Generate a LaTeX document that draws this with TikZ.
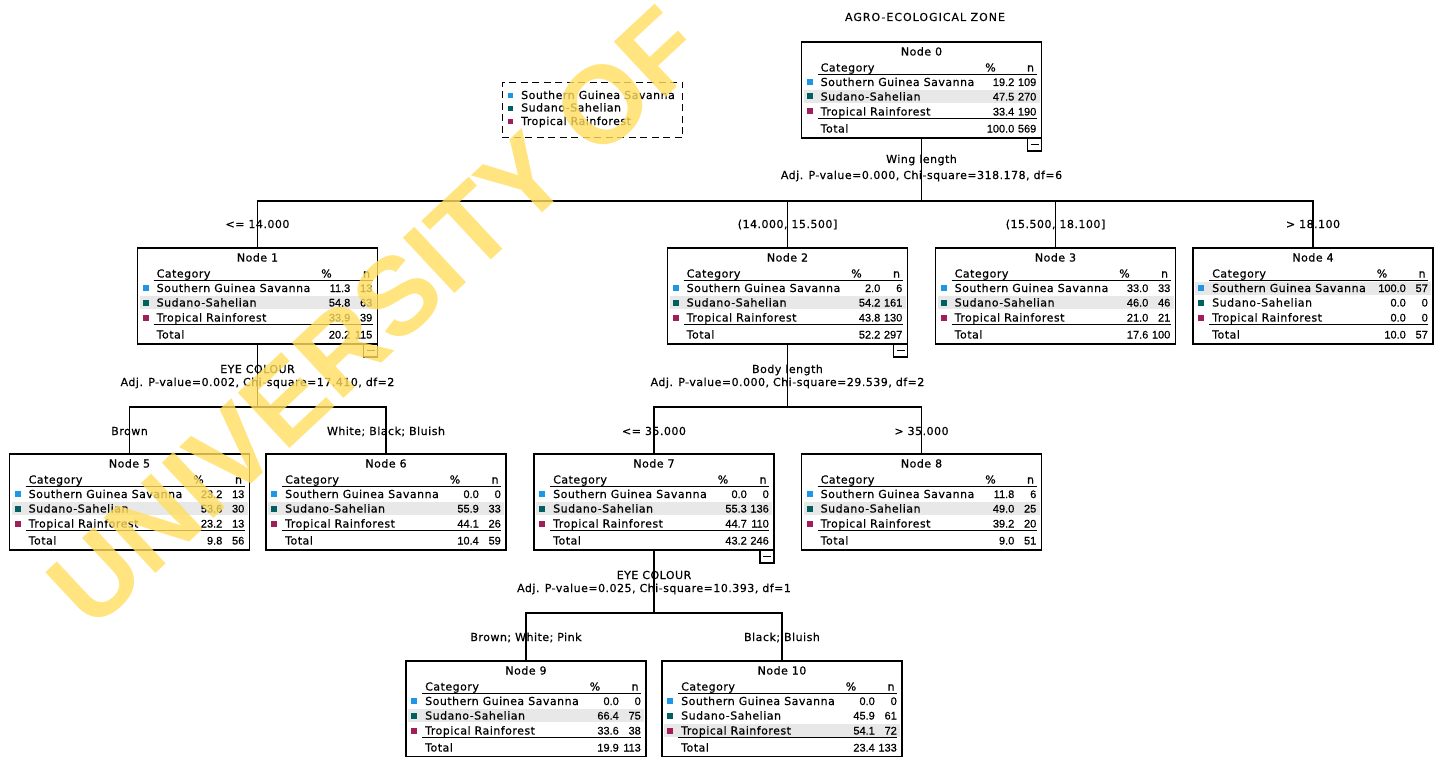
\documentclass[tikz,border=0pt]{standalone}
\usepackage{fontspec}
\setmainfont{DejaVu Sans}[LetterSpace=4.5, FakeBold=0.5]
\newfontfamily\numfont{Liberation Sans}[FakeBold=0.5]
\newfontfamily\hdfont{DejaVu Sans}[LetterSpace=9, FakeBold=0.5]
\newfontfamily\wmfont{Liberation Sans}
\usetikzlibrary{calc}
\definecolor{cSGS}{RGB}{30,150,230}
\definecolor{cSS}{RGB}{0,95,95}
\definecolor{cTR}{RGB}{160,30,90}
\definecolor{bandgrey}{RGB}{232,232,232}
\definecolor{wmyellow}{RGB}{255,222,95}
\tikzset{
  tbox/.style={draw=black, line width=1.4pt, minimum width=240pt, minimum height=96pt, inner sep=0pt, outer sep=0pt},
  lbl/.style={inner sep=0pt, font=\fontsize{11}{13}\selectfont},
  num/.style={inner sep=0pt, font=\numfont\fontsize{11}{13}\selectfont},
  conn/.style={line width=1.3pt},
  rulestyle/.style={line width=1.3pt},
  minusbox/.style={draw, line width=1.2pt, minimum width=14pt, minimum height=13pt, inner sep=0pt, outer sep=0pt},
  legendbox/.style={draw, line width=1.2pt, dash pattern=on 7pt off 4.5pt, inner sep=0pt, outer sep=0pt},
  wm/.style={inner sep=0pt, text=wmyellow, opacity=0.8, font=\wmfont\bfseries\fontsize{110}{110}\selectfont}
}
\def\tnparse#1/#2/#3/#4/#5/#6/#7/#8\relax{\def\tnpA{#1}\def\tnnA{#2}\def\tnpB{#3}\def\tnnB{#4}\def\tnpC{#5}\def\tnnC{#6}\def\tnpT{#7}\def\tnnT{#8}}
% #1 name, #2 left, #3 top, #4 number, #5 highlighted row, #6 data, #7 minus box
\newcommand\tnode[7]{%
  \tnparse#6\relax
  \ifcase#5\or\def\tnbc{40}\or\def\tnbc{54.5}\or\def\tnbc{69.5}\fi
  \begin{scope}[shift={(#2,#3)}]
    \fill[bandgrey] (2,{\tnbc-6.5}) rectangle (238,{\tnbc+6.5});
    \node[tbox, anchor=north west] (#1) at (0,0) {};
    \node[lbl, anchor=base] (#1-t) at (120,13.5) {Node #4};
    \node[lbl, anchor=base west] (#1-h) at (19,29.5) {Category};
    \node[lbl, anchor=base] (#1-hp) at (189,29.5) {\%};
    \node[lbl, anchor=base] (#1-hn) at (229,29.5) {n};
    \draw[rulestyle] (16,32.5) -- (235,32.5);
    \fill[cSGS] (5,37) rectangle (11,43);
    \fill[cSS] (5,51.5) rectangle (11,57.5);
    \fill[cTR] (5,66.5) rectangle (11,72.5);
    \node[lbl, anchor=base west] (#1-a) at (19,44) {Southern Guinea Savanna};
    \node[num, anchor=base east] (#1-ap) at (213,44) {\tnpA};
    \node[num, anchor=base east] (#1-an) at (235,44) {\tnnA};
    \node[lbl, anchor=base west] (#1-b) at (19,58.5) {Sudano-Sahelian};
    \node[num, anchor=base east] (#1-bp) at (213,58.5) {\tnpB};
    \node[num, anchor=base east] (#1-bn) at (235,58.5) {\tnnB};
    \node[lbl, anchor=base west] (#1-c) at (19,73.5) {Tropical Rainforest};
    \node[num, anchor=base east] (#1-cp) at (213,73.5) {\tnpC};
    \node[num, anchor=base east] (#1-cn) at (235,73.5) {\tnnC};
    \draw[rulestyle] (16,76.5) -- (235,76.5);
    \node[lbl, anchor=base west] (#1-s) at (19,90.5) {Total};
    \node[num, anchor=base east] (#1-sp) at (213,90.5) {\tnpT};
    \node[num, anchor=base east] (#1-sn) at (235,90.5) {\tnnT};
    \ifnum#7=1
      \node[minusbox, anchor=north east] (#1-m) at (240,96) {};
      \draw[line width=1.1pt] ($(#1-m.center)+(-4,0)$) -- ($(#1-m.center)+(4,0)$);
    \fi
  \end{scope}}
\begin{document}
\begin{tikzpicture}[x=1pt, y=-1pt]
\useasboundingbox (0,0) rectangle (1440,757);
\clip (0,0) rectangle (1440,757);
\fill[white] (0,0) rectangle (1440,757);

\node[lbl, font=\hdfont\fontsize{11}{13}\selectfont, anchor=base] (title) at (925,21) {AGRO-ECOLOGICAL ZONE};

% legend
\node[legendbox, anchor=north west, minimum width=180.5pt, minimum height=55.5pt] (leg) at (502.3,82.3) {};
\fill[cSGS] (508,93.5) rectangle (513,98.5);
\fill[cSS] (508,106) rectangle (513,111);
\fill[cTR] (508,119.2) rectangle (513,124.2);
\node[lbl, anchor=base west] (leg-a) at (521,99) {Southern Guinea Savanna};
\node[lbl, anchor=base west] (leg-b) at (521,111.5) {Sudano-Sahelian};
\node[lbl, anchor=base west] (leg-c) at (521,125) {Tropical Rainforest};

% nodes
\tnode{n0}{801.5}{42}{0}{2}{19.2/109/47.5/270/33.4/190/100.0/569}{1}
\tnode{n1}{137.5}{248}{1}{2}{11.3/13/54.8/63/33.9/39/20.2/115}{1}
\tnode{n2}{667.5}{248}{2}{2}{2.0/6/54.2/161/43.8/130/52.2/297}{1}
\tnode{n3}{935.5}{248}{3}{2}{33.0/33/46.0/46/21.0/21/17.6/100}{0}
\tnode{n4}{1193}{248}{4}{1}{100.0/57/0.0/0/0.0/0/10.0/57}{0}
\tnode{n5}{9.5}{454}{5}{2}{23.2/13/53.6/30/23.2/13/9.8/56}{0}
\tnode{n6}{266}{454}{6}{2}{0.0/0/55.9/33/44.1/26/10.4/59}{0}
\tnode{n7}{534}{454}{7}{2}{0.0/0/55.3/136/44.7/110/43.2/246}{1}
\tnode{n8}{801.5}{454}{8}{2}{11.8/6/49.0/25/39.2/20/9.0/51}{0}
\tnode{n9}{406}{661}{9}{2}{0.0/0/66.4/75/33.6/38/19.9/113}{0}
\tnode{n10}{662}{661}{10}{3}{0.0/0/45.9/61/54.1/72/23.4/133}{0}

% level 1 connectors
\draw[conn] (n0.south) -- (n0.south |- 0,201);
\draw[conn] (n1.north) |- (n4.north |- 0,201) -- (n4.north);
\draw[conn] (n2.north) -- (n2.north |- 0,201);
\draw[conn] (n3.north) -- (n3.north |- 0,201);
\node[lbl, anchor=base] (q0a) at (n0.south |- 0,163) {Wing length};
\node[lbl, anchor=base] (q0b) at (n0.south |- 0,179) {Adj. P-value=0.000, Chi-square=318.178, df=6};
\node[lbl, anchor=base] (e1) at (n1.north |- 0,228) {<= 14.000};
\node[lbl, anchor=base] (e2) at (n2.north |- 0,228) {(14.000, 15.500]};
\node[lbl, anchor=base] (e3) at (n3.north |- 0,228) {(15.500, 18.100]};
\node[lbl, anchor=base] (e4) at (n4.north |- 0,228) {> 18.100};

% node 1 split
\draw[conn] (n1.south) -- (n1.south |- 0,407);
\draw[conn] (n5.north) |- (n6.north |- 0,407) -- (n6.north);
\node[lbl, anchor=base] (q1a) at (n1.south |- 0,373) {EYE COLOUR};
\node[lbl, anchor=base] (q1b) at (n1.south |- 0,386) {Adj. P-value=0.002, Chi-square=17.410, df=2};
\node[lbl, anchor=base] (e5) at (n5.north |- 0,435) {Brown};
\node[lbl, anchor=base] (e6) at (n6.north |- 0,435) {White; Black; Bluish};

% node 2 split
\draw[conn] (n2.south) -- (n2.south |- 0,407);
\draw[conn] (n7.north) |- (n8.north |- 0,407) -- (n8.north);
\node[lbl, anchor=base] (q2a) at (n2.south |- 0,373) {Body length};
\node[lbl, anchor=base] (q2b) at (n2.south |- 0,386) {Adj. P-value=0.000, Chi-square=29.539, df=2};
\node[lbl, anchor=base] (e7) at (n7.north |- 0,435) {<= 35.000};
\node[lbl, anchor=base] (e8) at (n8.north |- 0,435) {> 35.000};

% node 7 split
\draw[conn] (n7.south) -- (n7.south |- 0,613);
\draw[conn] (n9.north) |- (n10.north |- 0,613) -- (n10.north);
\node[lbl, anchor=base] (q7a) at (n7.south |- 0,579) {EYE COLOUR};
\node[lbl, anchor=base] (q7b) at (n7.south |- 0,592) {Adj. P-value=0.025, Chi-square=10.393, df=1};
\node[lbl, anchor=base] (e9) at (n9.north |- 0,641) {Brown; White; Pink};
\node[lbl, anchor=base] (e10) at (n10.north |- 0,641) {Black; Bluish};

% watermark
\node[wm, rotate=43] (wmark) at (375,317) {UNIVERSITY OF};
\end{tikzpicture}
\end{document}
